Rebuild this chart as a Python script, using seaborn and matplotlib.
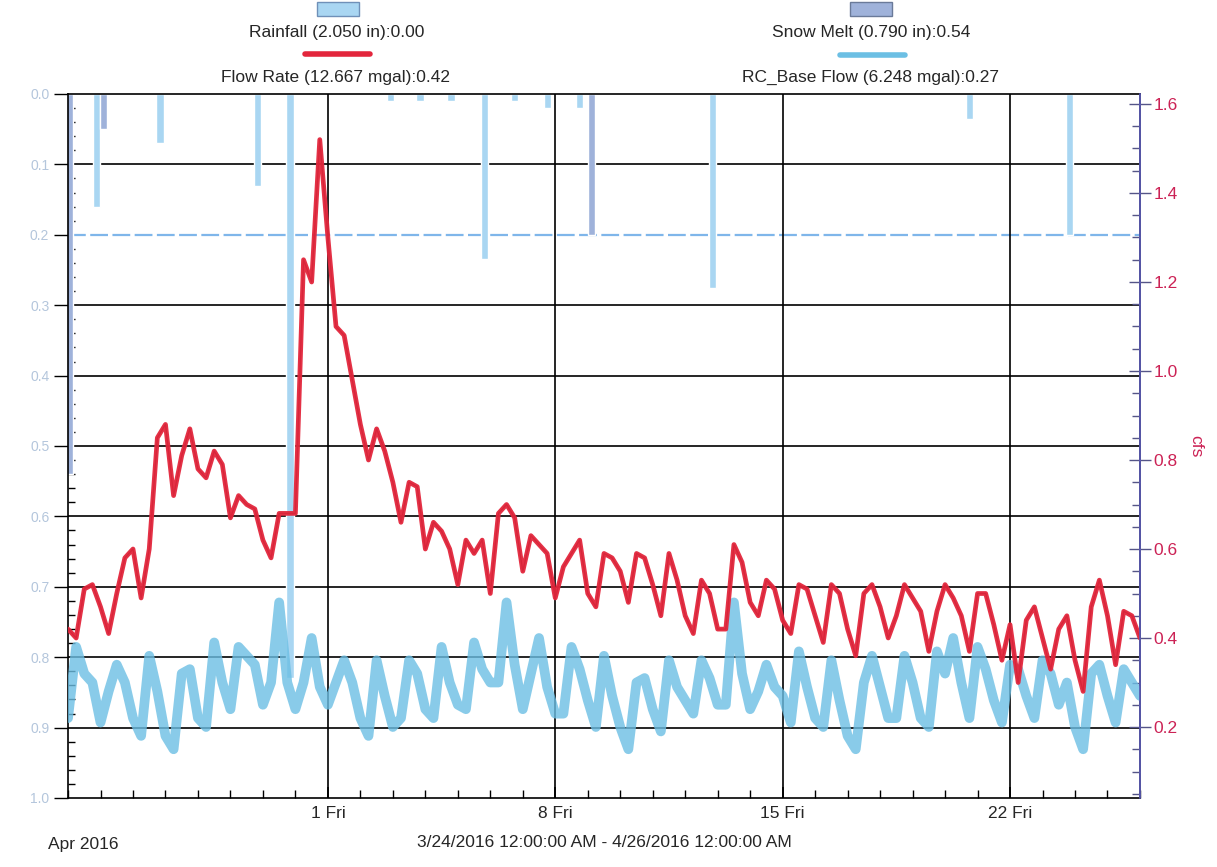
import numpy as np
import pandas as pd
import matplotlib
matplotlib.use("Agg")
import matplotlib.pyplot as plt
import matplotlib.dates as mdates
from matplotlib.ticker import MultipleLocator, FuncFormatter, FormatStrFormatter, FixedLocator
from matplotlib.patches import Rectangle
from matplotlib.lines import Line2D
import seaborn as sns

# 6-hourly readings from 3/24/2016 00:00 to 4/26/2016 00:00 (cfs)
flow_rate = [0.42, 0.40, 0.51, 0.52, 0.47, 0.41, 0.50, 0.58, 0.60, 0.49,
             0.60, 0.85, 0.88, 0.72, 0.81, 0.87, 0.78, 0.76, 0.82, 0.79,
             0.67, 0.72, 0.70, 0.69, 0.62, 0.58, 0.68, 0.68, 0.68, 1.25,
             1.20, 1.52, 1.30, 1.10, 1.08, 0.98, 0.88, 0.80, 0.87, 0.82,
             0.75, 0.66, 0.75, 0.74, 0.60, 0.66, 0.64, 0.60, 0.52, 0.62,
             0.59, 0.62, 0.50, 0.68, 0.70, 0.67, 0.55, 0.63, 0.61, 0.59,
             0.49, 0.56, 0.59, 0.62, 0.50, 0.47, 0.59, 0.58, 0.55, 0.48,
             0.59, 0.58, 0.52, 0.45, 0.59, 0.53, 0.45, 0.41, 0.53, 0.50,
             0.42, 0.42, 0.61, 0.57, 0.48, 0.45, 0.53, 0.51, 0.44, 0.41,
             0.52, 0.51, 0.45, 0.39, 0.52, 0.50, 0.42, 0.36, 0.50, 0.52,
             0.47, 0.40, 0.45, 0.52, 0.49, 0.46, 0.37, 0.46, 0.52, 0.49,
             0.45, 0.37, 0.50, 0.50, 0.43, 0.35, 0.43, 0.30, 0.44, 0.47,
             0.40, 0.33, 0.42, 0.45, 0.35, 0.28, 0.47, 0.53, 0.45, 0.34,
             0.46, 0.45, 0.40]

base_flow = [0.22, 0.38, 0.32, 0.30, 0.21, 0.28, 0.34, 0.30, 0.22, 0.18,
             0.36, 0.28, 0.18, 0.15, 0.32, 0.33, 0.22, 0.20, 0.39, 0.30,
             0.24, 0.38, 0.36, 0.34, 0.25, 0.30, 0.48, 0.30, 0.24, 0.30,
             0.40, 0.29, 0.25, 0.30, 0.35, 0.30, 0.22, 0.18, 0.35, 0.27,
             0.20, 0.22, 0.35, 0.32, 0.24, 0.22, 0.38, 0.30, 0.25, 0.24,
             0.39, 0.33, 0.30, 0.30, 0.48, 0.34, 0.24, 0.32, 0.40, 0.29,
             0.23, 0.23, 0.38, 0.33, 0.26, 0.20, 0.36, 0.27, 0.20, 0.15,
             0.30, 0.31, 0.24, 0.19, 0.35, 0.29, 0.26, 0.23, 0.35, 0.31,
             0.25, 0.25, 0.48, 0.32, 0.24, 0.28, 0.34, 0.29, 0.27, 0.21,
             0.37, 0.29, 0.22, 0.20, 0.35, 0.26, 0.18, 0.15, 0.30, 0.36,
             0.29, 0.22, 0.22, 0.36, 0.30, 0.22, 0.20, 0.37, 0.32, 0.40,
             0.30, 0.22, 0.38, 0.33, 0.26, 0.21, 0.34, 0.33, 0.27, 0.22,
             0.35, 0.32, 0.25, 0.30, 0.20, 0.15, 0.32, 0.34, 0.27, 0.21,
             0.33, 0.30, 0.27]

times = pd.date_range("2016-03-24 00:00", periods=len(flow_rate), freq="6h")

# rainfall / snow melt (inches), hanging from the top axis
rain_time = ["2016-03-24 21:00", "2016-03-26 20:00", "2016-03-29 20:00",
             "2016-03-30 20:00", "2016-04-02 22:00", "2016-04-03 20:00",
             "2016-04-04 19:00", "2016-04-05 20:00", "2016-04-06 18:00",
             "2016-04-07 18:00", "2016-04-08 18:00", "2016-04-12 20:00",
             "2016-04-20 18:00", "2016-04-23 20:00"]
rain_in = [0.16, 0.07, 0.13, 0.83, 0.01, 0.01, 0.01, 0.235, 0.01, 0.02,
           0.02, 0.275, 0.035, 0.20]
snow_time = ["2016-03-24 01:00", "2016-03-25 02:00", "2016-04-09 03:00"]
snow_in = [0.54, 0.05, 0.20]

fridays = ["2016-04-01", "2016-04-08", "2016-04-15", "2016-04-22"]

RED = "#e3263c"
BLUE = "#6cbfe4"
RAIN = "#a9d6f2"
SNOW = "#9fb2da"
TICKRED = "#cc2255"

sns.set_theme(style="white")
plt.rcParams["font.family"] = ["Liberation Sans", "DejaVu Sans"]

fig = plt.figure(figsize=(12.17, 8.67), dpi=100)
ax = fig.add_axes([0.0559, 0.0796, 0.8808, 0.812])
ax2 = ax.twinx()

# bars on the inverted left axis
ax.bar(pd.to_datetime(rain_time), rain_in, width=0.22, color=RAIN, zorder=2)
ax.bar(pd.to_datetime(snow_time), snow_in, width=0.22, color=SNOW, zorder=2)
ax.set_ylim(1.0, 0.0)
ax.set_xlim(pd.Timestamp("2016-03-24"), pd.Timestamp("2016-04-26"))

for v in [0.1, 0.3, 0.4, 0.5, 0.6, 0.7, 0.8, 0.9]:
    ax.axhline(v, color="black", lw=1.2, zorder=1)
ax.axhline(0.2, color="#7fb6ea", lw=1.6, ls=(0, (8, 2)), zorder=1)
for d in fridays:
    ax.axvline(pd.Timestamp(d), color="black", lw=1.2, zorder=1)

ax.set_yticks(np.arange(0, 1.01, 0.1))
ax.yaxis.set_major_formatter(FormatStrFormatter("%.1f"))
ax.yaxis.set_minor_locator(MultipleLocator(0.02))
ax.tick_params(axis="y", which="major", direction="out", length=10, width=1,
               color="black", labelcolor="#b4c6dc", labelsize=10, left=True)
ax.tick_params(axis="y", which="minor", direction="in", length=5, width=1,
               color="black", left=True)

ax.xaxis.set_major_locator(FixedLocator(mdates.date2num(pd.to_datetime(fridays))))
ax.xaxis.set_major_formatter(FuncFormatter(
    lambda x, pos: f"{mdates.num2date(x).day} {mdates.num2date(x):%a}"))
ax.xaxis.set_minor_locator(mdates.DayLocator())
ax.tick_params(axis="x", which="both", direction="in", bottom=True,
               color="black", labelsize=12.5, pad=6)
ax.tick_params(axis="x", which="major", length=8)
ax.tick_params(axis="x", which="minor", length=6)

for s in ["left", "bottom", "top"]:
    ax.spines[s].set_color("black")
    ax.spines[s].set_linewidth(1.2)

# flows on the right axis
sns.lineplot(x=times, y=base_flow, ax=ax2, color=BLUE, lw=7, alpha=0.8,
             legend=False)
sns.lineplot(x=times, y=flow_rate, ax=ax2, color="#222222", lw=1.0,
             legend=False)
sns.lineplot(x=times, y=flow_rate, ax=ax2, color=RED, lw=3.4, alpha=0.95,
             legend=False)
ax2.set_ylim(0.0405, 1.6225)
ax2.set_xlim(pd.Timestamp("2016-03-24"), pd.Timestamp("2016-04-26"))
ax2.set_yticks(np.arange(0.2, 1.61, 0.2))
ax2.yaxis.set_major_formatter(FormatStrFormatter("%.1f"))
ax2.yaxis.set_minor_locator(MultipleLocator(0.05))
ax2.tick_params(axis="y", which="major", direction="inout", length=16,
                width=1, color="#555588", labelcolor=TICKRED, labelsize=12.5,
                right=True, pad=2)
ax2.tick_params(axis="y", which="minor", direction="in", length=6, width=1,
                color="#555588", right=True)
ax2.set_xlabel("")
ax2.set_ylabel("cfs", rotation=270, color=TICKRED, fontsize=12.5, labelpad=18)
ax2.spines["right"].set_color("#5a5ab8")
ax2.spines["right"].set_linewidth(1.2)
for s in ["left", "bottom", "top"]:
    ax2.spines[s].set_visible(False)
ax.set_xlabel("")

# legend at the top, swatch above each label
fig.add_artist(Rectangle((0.2605, 0.9815), 0.0345, 0.0162, transform=fig.transFigure,
                         facecolor=RAIN, edgecolor="#6f90b8", lw=1))
fig.text(0.277, 0.963, "Rainfall (2.050 in):0.00", ha="center", va="center", fontsize=12.5)
fig.add_artist(Line2D([0.2506, 0.304], [0.9377, 0.9377], transform=fig.transFigure,
                      color=RED, lw=4))
fig.text(0.276, 0.911, "Flow Rate (12.667 mgal):0.42", ha="center", va="center", fontsize=12.5)

fig.add_artist(Rectangle((0.6984, 0.9815), 0.0345, 0.0162, transform=fig.transFigure,
                         facecolor=SNOW, edgecolor="#6a7a99", lw=1))
fig.text(0.7157, 0.962, "Snow Melt (0.790 in):0.54", ha="center", va="center", fontsize=12.5)
fig.add_artist(Line2D([0.690, 0.7436], [0.9366, 0.9366], transform=fig.transFigure,
                      color=BLUE, lw=4))
fig.text(0.715, 0.911, "RC_Base Flow (6.248 mgal):0.27", ha="center", va="center", fontsize=12.5)

fig.text(0.0394, 0.0254, "Apr 2016", ha="left", va="center", fontsize=12.5)
fig.text(0.497, 0.0277, "3/24/2016 12:00:00 AM - 4/26/2016 12:00:00 AM",
         ha="center", va="center", fontsize=12.5)

fig.savefig("out.png", dpi=100, facecolor="white")
